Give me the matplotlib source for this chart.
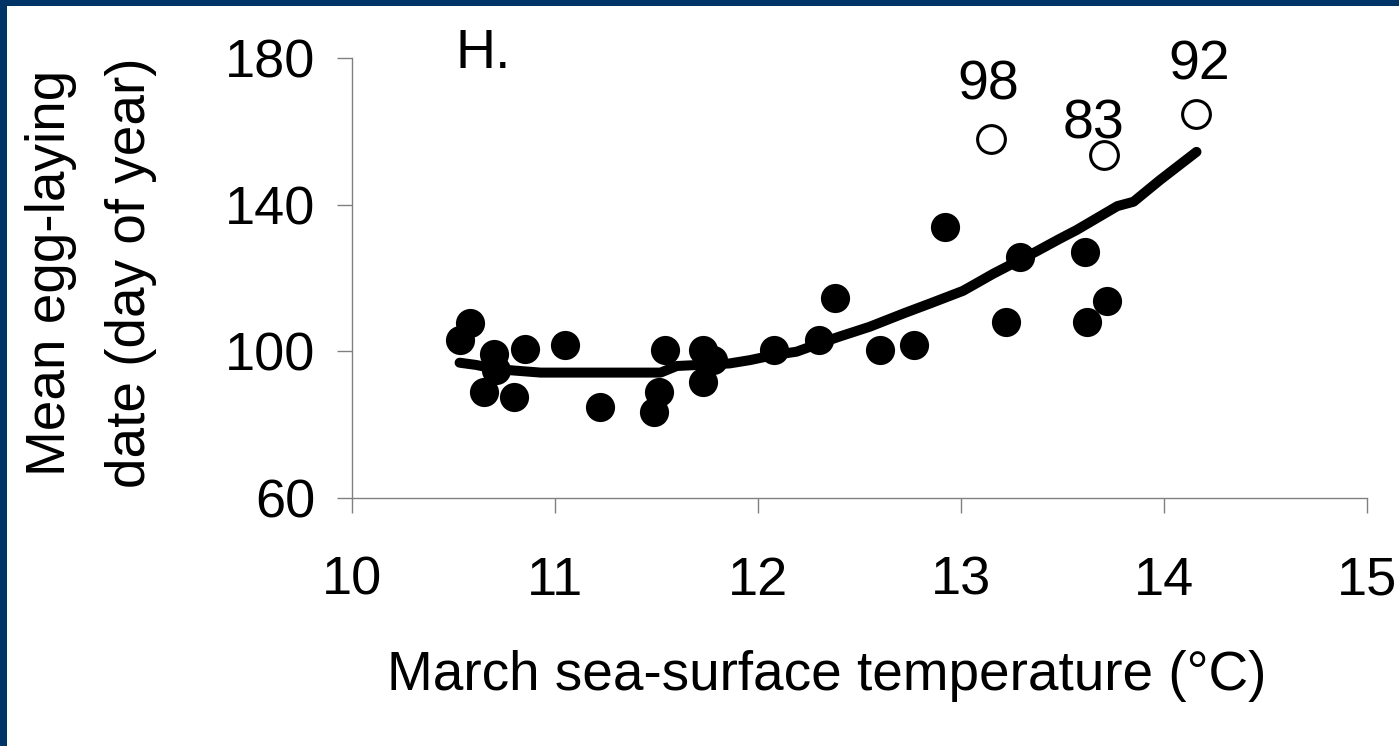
import matplotlib
matplotlib.use("Agg")
import matplotlib.pyplot as plt
from matplotlib.patches import Rectangle

plt.rcParams['font.family'] = ['Liberation Sans', 'DejaVu Sans']

# Years with typical laying dates (filled circles)
sst_filled = [10.53, 10.58, 10.70, 10.85, 11.05, 10.65, 10.80, 10.71, 11.22,
              11.54, 11.51, 11.49, 11.73, 11.78, 11.73, 12.08, 12.30, 12.38,
              12.60, 12.77, 12.92, 13.22, 13.29, 13.61, 13.62, 13.72]
lay_filled = [103.0, 107.6, 99.2, 100.6, 101.7, 89.0, 87.6, 95.0, 84.9,
              100.4, 88.9, 83.4, 100.4, 97.6, 91.6, 100.4, 103.1, 114.5,
              100.4, 101.7, 134.0, 108.0, 125.8, 127.0, 108.0, 113.7]

# Anomalous late years (open circles) and their year labels
sst_open = [13.15, 13.705, 14.16]
lay_open = [157.8, 153.5, 164.8]
open_years = ['98', '83', '92']

# Smoothed trend
trend_x = [10.53, 10.61, 10.70, 10.79, 10.93, 11.52, 11.60, 11.86, 11.96,
           12.08, 12.19, 12.26, 12.40, 12.55, 12.72, 12.85, 13.01, 13.09,
           13.16, 13.37, 13.49, 13.57, 13.77, 13.85, 13.98, 14.16]
trend_y = [96.9, 96.3, 95.3, 94.8, 94.2, 94.2, 96.0, 96.7, 97.6,
           99.0, 99.9, 101.3, 104.0, 106.7, 110.4, 113.1, 116.5, 119.0,
           121.2, 127.2, 130.8, 133.1, 139.6, 140.8, 146.7, 154.4]

x_ticks = [10, 11, 12, 13, 14, 15]
y_ticks = [60, 100, 140, 180]

W, H = 1399, 746
fig = plt.figure(figsize=(W / 100, H / 100), dpi=100)
fig.patch.set_facecolor('white')

# navy frame along the top and left edges
navy = '#003366'
fig.add_artist(Rectangle((0, 1 - 6 / H), 1, 6 / H, transform=fig.transFigure,
                         color=navy, lw=0))
fig.add_artist(Rectangle((0, 0), 7 / W, 1, transform=fig.transFigure,
                         color=navy, lw=0))

ax = fig.add_axes([352 / W, (H - 498) / H, 1015 / W, 440 / H])
ax.set_xlim(10, 15)
ax.set_ylim(60, 180)

ax.plot(trend_x, trend_y, color='black', lw=7.2, solid_capstyle='round',
        solid_joinstyle='round', zorder=3)
ax.plot(sst_filled, lay_filled, 'o', color='black', markersize=21,
        markeredgewidth=0, zorder=2)
ax.plot(sst_open, lay_open, 'o', markerfacecolor='white',
        markeredgecolor='black', markersize=20, markeredgewidth=2.2, zorder=4)

label_offsets = [(-2, 28.5), (-8, 12), (2, 24.5)]
for x, y, yr, off in zip(sst_open, lay_open, open_years, label_offsets):
    ax.annotate(yr, (x, y), xytext=off, textcoords='offset points',
                ha='center', va='baseline', fontsize=40, color='black')

ax.text(10.51, 177.3, 'H.', fontsize=40, ha='left', va='baseline')

for side in ('top', 'right'):
    ax.spines[side].set_visible(False)
for side in ('left', 'bottom'):
    ax.spines[side].set_color('#808080')
    ax.spines[side].set_linewidth(1.0)

ax.set_xticks(x_ticks)
ax.set_yticks(y_ticks)
ax.tick_params(axis='both', direction='out', length=10.5, width=1.0,
               color='#808080', labelsize=39, labelcolor='black')
ax.tick_params(axis='x', pad=31)
ax.tick_params(axis='y', pad=16)

ax.set_xlabel('March sea-surface temperature (°C)', fontsize=39.5)
ax.xaxis.set_label_coords(0.468, -0.345)
ax.xaxis.label.set_va('top')

fig.text(91 / W, (H - 273) / H, 'Mean egg-laying\ndate (day of year)',
         rotation=90, ha='center', va='center', multialignment='center',
         fontsize=39.5, linespacing=1.72)

fig.savefig('out.png', dpi=100)
